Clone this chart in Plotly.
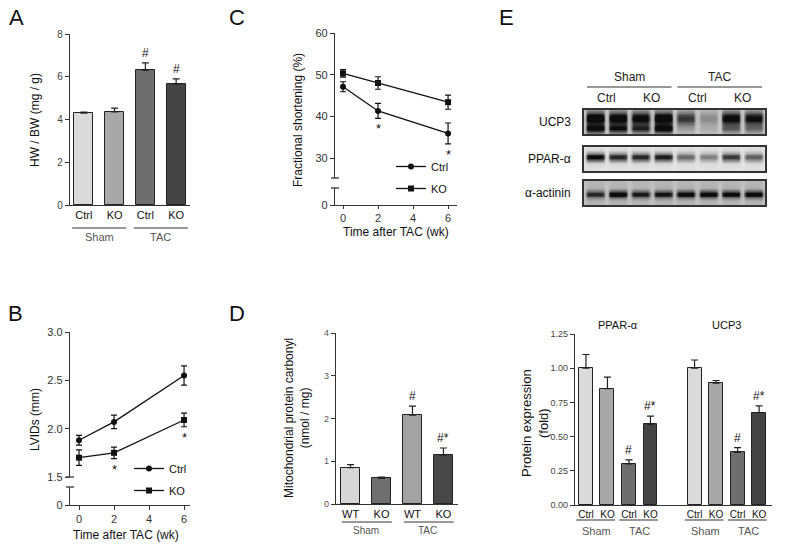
import numpy as np
import plotly.graph_objects as go

W, H = 787, 550
FONT = "Liberation Sans, Arial, Helvetica, sans-serif"

# ---------------- data ----------------
# Panel A: heart weight / body weight
a_labels = ["Ctrl", "KO", "Ctrl", "KO"]
a_groups = ["Sham", "TAC"]
a_values = [4.30, 4.35, 6.30, 5.65]
a_errors = [0.05, 0.18, 0.35, 0.25]
a_marks = ["", "", "#", "#"]
a_colors = ["#dadada", "#a8a8a8", "#6e6e6e", "#444444"]

# Panel B: LVIDs (mm)
weeks = [0, 2, 6]
b_ctrl = [1.88, 2.07, 2.55]
b_ctrl_err = [0.05, 0.07, 0.10]
b_ko = [1.70, 1.75, 2.09]
b_ko_err = [0.08, 0.06, 0.07]
b_marks = ["", "*", "*"]

# Panel C: fractional shortening (%)
c_ctrl = [47.1, 41.3, 35.9]
c_ctrl_err = [1.2, 1.8, 2.5]
c_ko = [50.3, 48.0, 43.4]
c_ko_err = [0.9, 1.5, 1.7]
c_marks = ["", "*", "*"]

# Panel D: mitochondrial protein carbonyl
d_labels = ["WT", "KO", "WT", "KO"]
d_values = [0.85, 0.60, 2.08, 1.15]
d_errors = [0.07, 0.03, 0.21, 0.16]
d_marks = ["", "", "#", "#*"]
d_colors = ["#d6d6d6", "#6f6f6f", "#a3a3a3", "#474747"]

# Panel E: protein expression (fold)
e_labels = ["Ctrl", "KO", "Ctrl", "KO"]
e_proteins = ["PPAR-α", "UCP3"]
e_ppar = [1.00, 0.85, 0.30, 0.59]
e_ppar_err = [0.10, 0.085, 0.03, 0.06]
e_ucp3 = [1.00, 0.89, 0.385, 0.675]
e_ucp3_err = [0.06, 0.02, 0.035, 0.05]
e_marks = ["", "", "#", "#*"]

# Panel E blots: relative band intensity per lane (8 lanes)
lane_groups = ["Sham", "TAC"]
lane_labels = ["Ctrl", "KO", "Ctrl", "KO"]
blot_names = ["UCP3", "PPAR-α", "α-actinin"]
ucp3_upper = [0.95, 0.90, 0.85, 0.95, 0.60, 0.22, 0.85, 0.80]
ucp3_lower = [0.80, 0.70, 0.60, 0.85, 0.10, 0.05, 0.35, 0.30]
ppar_band = [0.95, 0.80, 0.80, 0.85, 0.50, 0.40, 0.72, 0.55]
actinin_band = [0.62, 0.85, 0.68, 0.72, 0.80, 0.82, 0.78, 0.82]

# ---------------- helpers ----------------
fig = go.Figure()


def dx(a, b):
    return [a / W, b / W]


def dy(top, bottom):
    return [1 - bottom / H, 1 - top / H]


def py(p):
    return 1 - p / H


def pxx(p):
    return p / W


def axis_style(**kw):
    base = dict(showline=True, linecolor="#333", linewidth=1.3, ticks="outside",
                ticklen=4, tickwidth=1.2, tickcolor="#333", showgrid=False,
                zeroline=False, automargin=False, fixedrange=True,
                tickfont=dict(family=FONT, size=10, color="#444"))
    base.update(kw)
    return base


def bar_panel(xa, ya, pos, vals, errs, colors, marks, width, msize=12):
    fig.add_trace(go.Bar(
        x=pos, y=vals, width=width, xaxis=xa, yaxis=ya, showlegend=False,
        marker=dict(color=colors, line=dict(color="#222", width=1)),
        error_y=dict(type="data", array=errs, arrayminus=[0] * len(errs),
                     symmetric=False, color="#222", thickness=1.2, width=3.5),
        hoverinfo="skip"))
    for p, v, e, m in zip(pos, vals, errs, marks):
        if m:
            fig.add_annotation(x=p, y=v + e, xref=xa, yref=ya, text=m, showarrow=False,
                               yanchor="bottom", xanchor="center", yshift=1,
                               font=dict(family=FONT, size=msize, color="#111"))


def group_labels(xa, pos, names, line_px, text_px, size, off0=0.38, off1=0.38):
    for i, name in enumerate(names):
        p0, p1 = pos[2 * i], pos[2 * i + 1]
        fig.add_shape(type="line", xref=xa, yref="paper", x0=p0 - off0, x1=p1 + off1,
                      y0=py(line_px), y1=py(line_px), line=dict(color="#333", width=1.2))
        fig.add_annotation(x=(p0 + p1) / 2, y=py(text_px), xref=xa, yref="paper",
                           text=name, showarrow=False, yanchor="middle", xanchor="center",
                           font=dict(family=FONT, size=size, color="#555"))


def line_series(xa, ya, xs, ys, errs, symbol, name, legend):
    fig.add_trace(go.Scatter(
        x=xs, y=ys, xaxis=xa, yaxis=ya, mode="lines+markers", name=name,
        legend=legend, legendgroup=legend + name,
        line=dict(color="#111", width=1.3),
        marker=dict(symbol=symbol, size=6, color="#111"),
        error_y=dict(type="data", array=errs, color="#111", thickness=1.2, width=3),
        hoverinfo="skip"))


def text(xp, ypx, s, size=12, color="#111", angle=0, xanchor="center"):
    fig.add_annotation(x=pxx(xp), y=py(ypx), xref="paper", yref="paper", text=s,
                       showarrow=False, textangle=angle, xanchor=xanchor, yanchor="middle",
                       font=dict(family=FONT, size=size, color=color))


def break_marks(axis_px, y_px_list):
    for yp in y_px_list:
        fig.add_shape(type="line", xref="paper", yref="paper",
                      x0=pxx(axis_px - 4), x1=pxx(axis_px + 4), y0=py(yp), y1=py(yp),
                      line=dict(color="#333", width=1.3))


# ---------------- Panel A ----------------
a_pos = list(range(len(a_values)))
bar_panel("x", "y", a_pos, a_values, a_errors, a_colors, a_marks, 0.62)
group_labels("x", a_pos, a_groups, 228, 237, 11, 0.38, 0.38)
text(35, 120, "HW / BW (mg / g)", 12, angle=-90)
text(16, 18, "A", 22)

# ---------------- Panel C ----------------
line_series("x2", "y2", weeks, c_ctrl, c_ctrl_err, "circle", "Ctrl", "legend")
line_series("x2", "y2", weeks, c_ko, c_ko_err, "square", "KO", "legend")
fig.add_trace(go.Scatter(x=[], y=[], xaxis="x2", yaxis="y3", showlegend=False))
for w, v, e, m in zip(weeks, c_ctrl, c_ctrl_err, c_marks):
    if m:
        fig.add_annotation(x=w, y=v - e, xref="x2", yref="y2", text=m, showarrow=False,
                           yanchor="top", xanchor="center", yshift=-1,
                           font=dict(family=FONT, size=13, color="#111"))
break_marks(335, [178, 188])
text(298, 120, "Fractional shortening (%)", 12, angle=-90)
text(396, 232, "Time after TAC (wk)", 12)
text(237, 18, "C", 22)

# ---------------- Panel B ----------------
line_series("x3", "y4", weeks, b_ctrl, b_ctrl_err, "circle", "Ctrl", "legend2")
line_series("x3", "y4", weeks, b_ko, b_ko_err, "square", "KO", "legend2")
fig.add_trace(go.Scatter(x=[], y=[], xaxis="x3", yaxis="y5", showlegend=False))
for w, v, e, m in zip(weeks, b_ko, b_ko_err, b_marks):
    if m:
        fig.add_annotation(x=w, y=v - e, xref="x3", yref="y4", text=m, showarrow=False,
                           yanchor="top", xanchor="center", yshift=-1,
                           font=dict(family=FONT, size=13, color="#111"))
break_marks(70, [477, 487])
text(35, 420, "LVIDs (mm)", 12, angle=-90)
text(126, 535, "Time after TAC (wk)", 12)
text(15, 313, "B", 22)

# ---------------- Panel D ----------------
d_pos = list(range(len(d_values)))
bar_panel("x4", "y6", d_pos, d_values, d_errors, d_colors, d_marks, 0.62)
group_labels("x4", d_pos, a_groups, 522, 530, 10, 0.28, 0.33)
text(297, 418, "Mitochondrial protein carbonyl<br>(nmol / mg)", 12, angle=-90)
text(237, 313, "D", 22)

# ---------------- Panel E (quantification) ----------------
e_pos_p = [0, 1, 2, 3]
e_pos_u = [5.05, 6.05, 7.05, 8.05]
bar_panel("x5", "y7", e_pos_p, e_ppar, e_ppar_err, a_colors, e_marks, 0.65)
bar_panel("x5", "y7", e_pos_u, e_ucp3, e_ucp3_err, a_colors, e_marks, 0.65)
group_labels("x5", e_pos_p, a_groups, 520, 531, 11, 0.45, 0.35)
group_labels("x5", e_pos_u, a_groups, 520, 531, 11, 0.45, 0.35)
for name, pos in zip(e_proteins, [e_pos_p, e_pos_u]):
    fig.add_annotation(x=sum(pos) / len(pos), y=py(325), xref="x5", yref="paper", text=name,
                       showarrow=False, xanchor="center", yanchor="middle",
                       font=dict(family=FONT, size=11, color="#111"))
text(535, 423, "Protein expression<br>(fold)", 13, angle=-90)

# ---------------- Panel E (blots) ----------------
nx, ny = 240, 30
bx = (np.arange(nx) + 0.5) * 8 / nx
by = (np.arange(ny) + 0.5) / ny
lane_idx = np.clip(bx.astype(int), 0, 7)
ddx = np.abs(bx - (lane_idx + 0.5))
lane_shape = 1 / (1 + np.exp((ddx - 0.40) / 0.03))


def blot(bands, bg):
    z = np.full((ny, nx), bg) * (0.8 + 0.2 * lane_shape)[None, :]
    for inten, yc, sig in bands:
        prof = np.exp(-((by[:, None] - yc) / sig) ** 2)
        z = z + prof * (np.array(inten)[lane_idx] * lane_shape)[None, :]
    return np.clip(z, 0, 1)


blot_z = [
    blot([(ucp3_upper, 0.35, 0.28), (ucp3_lower, 0.78, 0.17)], 0.24),
    blot([(ppar_band, 0.42, 0.17)], 0.10),
    blot([(actinin_band, 0.55, 0.15)], 0.28),
]
blot_axes = [("x6", "y8"), ("x7", "y9"), ("x8", "y10")]
blot_rows = [(110, 134), (147, 171), (181, 205)]
for z, (xa, ya), name, (t, b) in zip(blot_z, blot_axes, blot_names, blot_rows):
    fig.add_trace(go.Heatmap(z=z, x=bx, y=by, xaxis=xa, yaxis=ya, zmin=0, zmax=1,
                             colorscale=[[0, "#f6f6f6"], [1, "#0c0c0c"]], showscale=False,
                             zsmooth="best", hoverinfo="skip"))
    text(573, (t + b) / 2, name, 12, xanchor="right")

for i, g in enumerate(lane_groups):
    fig.add_shape(type="line", xref="x6", yref="paper", x0=4 * i + 0.13, x1=4 * i + 3.87,
                  y0=py(87), y1=py(87), line=dict(color="#333", width=1.2))
    fig.add_annotation(x=4 * i + 2, y=py(77), xref="x6", yref="paper", text=g, showarrow=False,
                       xanchor="center", yanchor="middle",
                       font=dict(family=FONT, size=12, color="#222"))
for i, lab in enumerate(lane_labels):
    fig.add_annotation(x=2 * i + 1, y=py(98), xref="x6", yref="paper", text=lab, showarrow=False,
                       xanchor="center", yanchor="middle",
                       font=dict(family=FONT, size=12, color="#222"))
text(506, 18, "E", 22)

# ---------------- layout ----------------
cat_font = dict(family=FONT, size=11, color="#111")
layout = dict(
    width=W, height=H, margin=dict(l=0, r=0, t=0, b=0),
    paper_bgcolor="white", plot_bgcolor="rgba(0,0,0,0)",
    font=dict(family=FONT, color="#111"), barmode="overlay", bargap=0,
    # A
    xaxis=axis_style(domain=dx(70, 190), range=[-0.45, 3.45], anchor="y", tickvals=a_pos,
                     ticktext=a_labels, ticks="", tickfont=cat_font),
    yaxis=axis_style(domain=dy(34, 205), range=[0, 8], anchor="x", tickvals=[0, 2, 4, 6, 8]),
    # C
    xaxis2=axis_style(domain=dx(335, 457), range=[-0.457, 6.51], anchor="y3", ticklen=3,
                      tickvals=[0, 2, 4, 6], tickfont=dict(family=FONT, size=11, color="#333")),
    yaxis2=axis_style(domain=dy(33, 178), range=[25.2, 60], anchor="x2",
                      tickvals=[30, 40, 50, 60], tickfont=dict(family=FONT, size=11, color="#333")),
    yaxis3=axis_style(domain=dy(188, 205), range=[0, 4], anchor="x2", tickvals=[0],
                      tickfont=dict(family=FONT, size=11, color="#333")),
    # B
    xaxis3=axis_style(domain=dx(70, 190), range=[-0.514, 6.34], anchor="y5",
                      tickvals=[0, 2, 4, 6], tickfont=dict(family=FONT, size=11, color="#333")),
    yaxis4=axis_style(domain=dy(332, 477), range=[1.5, 3.0], anchor="x3",
                      tickvals=[1.5, 2.0, 2.5, 3.0], tickformat=".1f",
                      tickfont=dict(family=FONT, size=11, color="#333")),
    yaxis5=axis_style(domain=dy(487, 505), range=[0, 1], anchor="x3", tickvals=[0],
                      tickfont=dict(family=FONT, size=11, color="#333")),
    # D
    xaxis4=axis_style(domain=dx(336, 458), range=[-0.47, 3.47], anchor="y6", tickvals=d_pos,
                      ticktext=d_labels, ticks="", tickfont=cat_font),
    yaxis6=axis_style(domain=dy(333, 504), range=[0, 4], anchor="x4", tickvals=[0, 1, 2, 3, 4],
                      tickfont=dict(family=FONT, size=9, color="#555")),
    # E quant
    xaxis5=axis_style(domain=dx(575, 772), range=[-0.51, 8.65], anchor="y7",
                      tickvals=e_pos_p + e_pos_u, ticktext=e_labels + e_labels, ticks="",
                      tickfont=dict(family=FONT, size=10, color="#111")),
    yaxis7=axis_style(domain=dy(334, 505), range=[0, 1.25], anchor="x5",
                      tickvals=[0, 0.25, 0.5, 0.75, 1.0, 1.25], tickformat=".2f",
                      tickfont=dict(family=FONT, size=9, color="#444")),
    legend=dict(x=pxx(391), y=py(152), xanchor="left", yanchor="top", bgcolor="rgba(0,0,0,0)",
                font=dict(family=FONT, size=11, color="#111"), traceorder="grouped",
                tracegroupgap=3, itemwidth=30),
    legend2=dict(x=pxx(129), y=py(454), xanchor="left", yanchor="top", bgcolor="rgba(0,0,0,0)",
                 font=dict(family=FONT, size=11, color="#111"), traceorder="grouped",
                 tracegroupgap=3, itemwidth=30),
)
blot_ax = dict(showline=True, mirror=True, linecolor="#333", linewidth=1.5, ticks="",
               showticklabels=False, showgrid=False, zeroline=False, automargin=False,
               fixedrange=True)
for k, ((xa, ya), (t, b)) in enumerate(zip(blot_axes, blot_rows)):
    xn = "xaxis" + xa[1:]
    yn = "yaxis" + ya[1:]
    layout[xn] = dict(blot_ax, domain=dx(584, 765), range=[0, 8], anchor=ya)
    layout[yn] = dict(blot_ax, domain=dy(t, b), range=[1, 0], anchor=xa)

fig.update_layout(**layout)
fig.write_html("out.html", config={"displayModeBar": False},
               post_script="document.body.style.margin='0px';")
